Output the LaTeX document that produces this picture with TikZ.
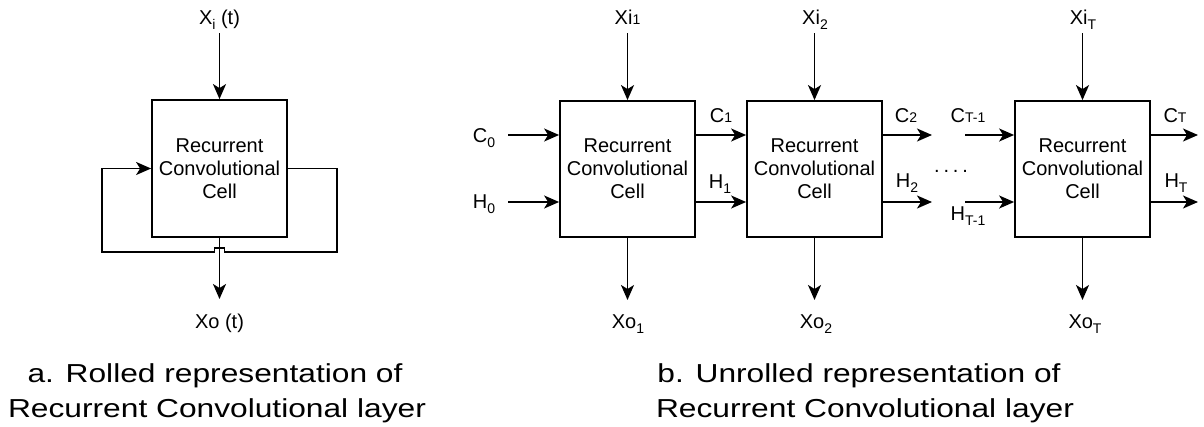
\documentclass[tikz,border=0pt]{standalone}
\usepackage{fontspec}
\setmainfont{Liberation Sans}
\newfontfamily\capfont[FakeStretch=1.22]{Liberation Sans}
\usetikzlibrary{arrows.meta}

% lowered subscript and small baseline index
\newcommand{\lsub}[1]{\raisebox{-0.25em}{\fontsize{14}{14}\selectfont #1}}
\newcommand{\bsub}[1]{\raisebox{-0.02em}{\fontsize{14}{14}\selectfont #1}}

\begin{document}
\begin{tikzpicture}[x=1pt, y=-1pt, line width=1.8pt,
  arr/.style={-{Stealth[length=15pt, width=13pt, inset=4pt]}},
  cellbox/.style={draw, minimum width=135pt, minimum height=136pt, inner sep=0pt,
    align=center, font=\fontsize{20}{23}\selectfont},
  lbl/.style={anchor=base, inner sep=0pt, font=\fontsize{20}{24}\selectfont},
  captext/.style={anchor=base, inner sep=0pt, font=\capfont\fontsize{26}{30}\selectfont}]
\useasboundingbox (0,0) rectangle (1204,426);

% ---------- rolled layer ----------
\node[cellbox, minimum height=137pt] (rb) at (219.5,168.5) {Recurrent\\Convolutional\\Cell};
\node[lbl] (rxi) at (219.5,24) {X\lsub{i} (t)};
\coordinate (rin) at (219.5,33);
\draw[arr] (rin) -- (rb.north);
\node[lbl] (rxo) at (219.5,328) {Xo (t)};
\coordinate (rout) at (219.5,299);
\draw[arr] (rb.south) -- (rout);
% feedback loop with a jump over the output line
\coordinate (lr) at (337,252);
\coordinate (ll) at (102,252);
\draw[arr] (rb.east) -| (lr) -- ++(-112.5,0) -- ++(0,-4) -- ++(-10,0) -- ++(0,4)
  -- (ll) |- (rb.west);

% ---------- unrolled layer ----------
\node[cellbox] (b1) at (627.5,169) {Recurrent\\Convolutional\\Cell};
\node[cellbox] (b2) at (814.5,169) {Recurrent\\Convolutional\\Cell};
\node[cellbox] (b3) at (1082.5,169) {Recurrent\\Convolutional\\Cell};

% inputs
\node[lbl] (xi1) at (627.5,24) {Xi\bsub{1}};
\node[lbl] (xi2) at (815,24) {Xi\lsub{2}};
\node[lbl] (xiT) at (1083,24) {Xi\lsub{T}};
\coordinate (in1) at (627.5,33);
\coordinate (in2) at (814.5,33);
\coordinate (inT) at (1082.5,33);
\draw[arr] (in1) -- (b1.north);
\draw[arr] (in2) -- (b2.north);
\draw[arr] (inT) -- (b3.north);

% outputs
\coordinate (out1) at (627.5,300);
\coordinate (out2) at (814.5,300);
\coordinate (outT) at (1082.5,300);
\draw[arr] (b1.south) -- (out1);
\draw[arr] (b2.south) -- (out2);
\draw[arr] (b3.south) -- (outT);
\node[lbl] (xo1) at (628,328) {Xo\lsub{1}};
\node[lbl] (xo2) at (816,328) {Xo\lsub{2}};
\node[lbl] (xoT) at (1085,328) {Xo\lsub{T}};

% initial states
\coordinate (c0) at (508,135);
\coordinate (h0) at (508,202);
\node[lbl] (c0l) at (484,142) {C\lsub{0}};
\node[lbl] (h0l) at (484,208) {H\lsub{0}};
\draw[arr] (c0) -- (c0 -| b1.west);
\draw[arr] (h0) -- (h0 -| b1.west);

% states between cells
\draw[arr] ([yshift=34pt]b1.east) -- ([yshift=34pt]b2.west);
\draw[arr] ([yshift=-33pt]b1.east) -- ([yshift=-33pt]b2.west);
\node[lbl] (c1l) at (721,122) {C\bsub{1}};
\node[lbl] (h1l) at (720,188) {H\lsub{1}};

\coordinate (c2e) at (932,135);
\coordinate (h2e) at (932,202);
\draw[arr] ([yshift=34pt]b2.east) -- (c2e);
\draw[arr] ([yshift=-33pt]b2.east) -- (h2e);
\node[lbl] (c2l) at (906,122) {C\bsub{2}};
\node[lbl] (h2l) at (907,187) {H\lsub{2}};

\node[lbl] (dots) at (951,172) {.\hspace{3.8pt}.\hspace{3.8pt}.\hspace{3.8pt}.};

\coordinate (cTs) at (965,135);
\coordinate (hTs) at (965,202);
\draw[arr] (cTs) -- (cTs -| b3.west);
\draw[arr] (hTs) -- (hTs -| b3.west);
\node[lbl] (cT1l) at (968,122) {C\bsub{T-1}};
\node[lbl] (hT1l) at (968,220) {H\lsub{T-1}};

\coordinate (cTe) at (1198,135);
\coordinate (hTe) at (1198,202);
\draw[arr] ([yshift=34pt]b3.east) -- (cTe);
\draw[arr] ([yshift=-33pt]b3.east) -- (hTe);
\node[lbl] (cTl) at (1175,122) {C\bsub{T}};
\node[lbl] (hTl) at (1176,187) {H\lsub{T}};

% ---------- captions ----------
\node[captext] (capa1) at (215,382) {a. Rolled representation of};
\node[captext] (capa2) at (217,417) {Recurrent Convolutional layer};
\node[captext] (capb1) at (859,382) {b. Unrolled representation of};
\node[captext] (capb2) at (865,417) {Recurrent Convolutional layer};
\end{tikzpicture}
\end{document}
